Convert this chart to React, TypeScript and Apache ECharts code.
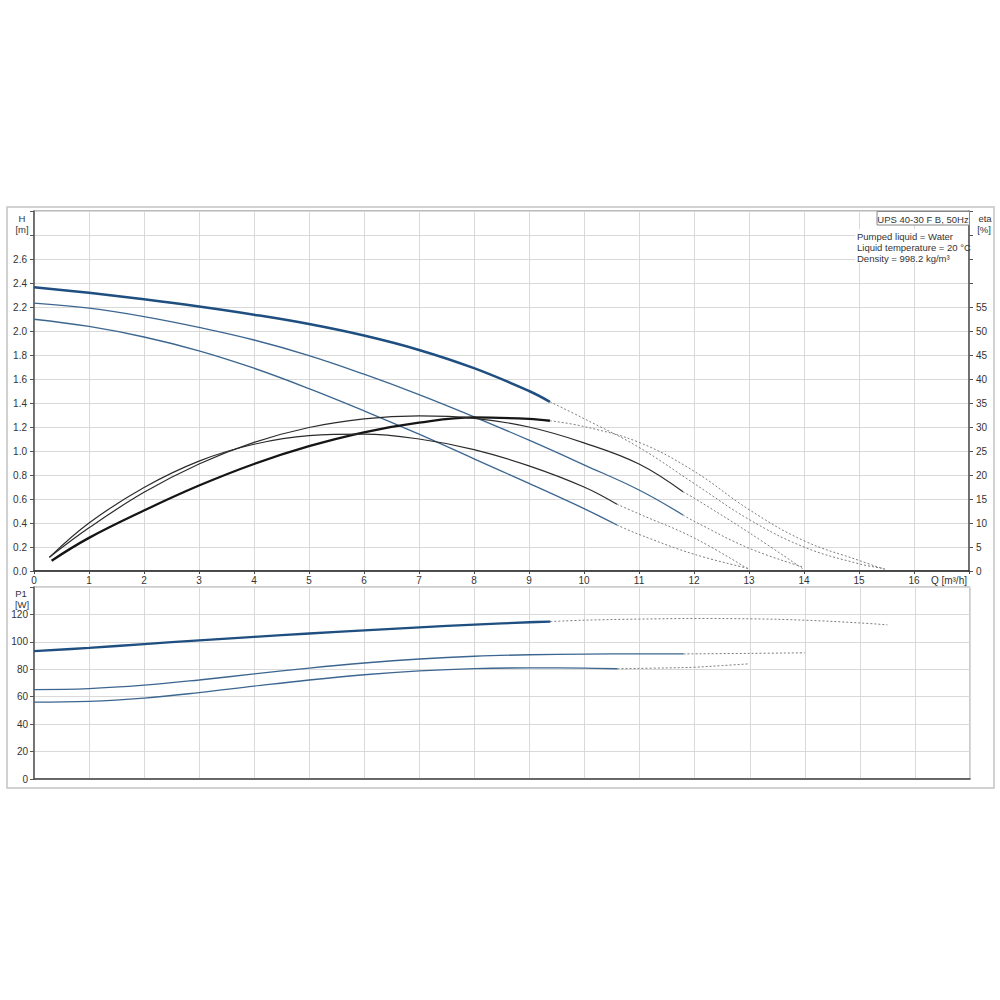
import React, { useEffect, useRef } from "react";
import * as echarts from "echarts";

// ---- Flow ticks ----
const Q_TICKS = [0, 1, 2, 3, 4, 5, 6, 7, 8, 9, 10, 11, 12, 13, 14, 15, 16, 17];

// ---- Head H [m] ----
const Q_H3 = [0, 1, 2, 3, 4, 5, 6, 7, 8, 9, 9.38];
const H3 = [2.365, 2.318, 2.264, 2.204, 2.136, 2.058, 1.962, 1.842, 1.69, 1.5, 1.41];
const Q_H3_EXT = [9.38, 10, 11, 12, 13, 14, 15, 15.47];
const H3_EXT = [1.41, 1.27, 1.03, 0.73, 0.43, 0.2, 0.06, 0.02];

const Q_H2 = [0, 1, 2, 3, 4, 5, 6, 7, 8, 9, 10, 11, 11.8];
const H2 = [2.232, 2.19, 2.12, 2.03, 1.925, 1.795, 1.64, 1.47, 1.285, 1.09, 0.885, 0.675, 0.467];
const Q_H2_EXT = [11.8, 12, 13, 14];
const H2_EXT = [0.467, 0.415, 0.19, 0.03];

const Q_H1 = [0, 1, 2, 3, 4, 5, 6, 7, 8, 9, 10, 10.6];
const H1 = [2.098, 2.038, 1.95, 1.835, 1.69, 1.52, 1.335, 1.14, 0.935, 0.73, 0.52, 0.383];
const Q_H1_EXT = [10.6, 11, 12, 13];
const H1_EXT = [0.383, 0.305, 0.14, 0.02];

// ---- Efficiency eta [%] ----
const Q_E3 = [0.32, 1, 2, 3, 4, 5, 6, 7, 8, 9, 9.38];
const E3 = [2.15, 6.9, 12.6, 17.8, 22.3, 26.0, 28.9, 30.9, 32.0, 31.7, 31.3];
const Q_E3_EXT = [9.38, 10, 11, 12, 13, 14, 15, 15.5];
const E3_EXT = [31.3, 30.1, 26.8, 20.8, 12.8, 6.3, 2.2, 0.2];

const Q_E2 = [0.28, 1, 2, 3, 4, 5, 6, 7, 8, 9, 10, 11, 11.8];
const E2 = [2.85, 9.0, 16.4, 22.3, 26.8, 29.9, 31.7, 32.3, 31.8, 30.0, 26.7, 22.3, 16.5];
const Q_E2_EXT = [11.8, 12, 13, 14];
const E2_EXT = [16.5, 15.2, 8.0, 0.3];

const Q_E1 = [0.28, 1, 2, 3, 4, 5, 6, 7, 8, 9, 10, 10.6];
const E1 = [2.85, 10.0, 17.4, 22.9, 26.4, 28.2, 28.5, 27.5, 25.3, 21.9, 17.5, 13.9];
const Q_E1_EXT = [10.6, 11, 12, 13];
const E1_EXT = [13.9, 11.9, 6.9, 0.3];

// ---- Power P1 [W] ----
const Q_P3 = [0, 1, 2, 3, 4, 5, 6, 7, 8, 9, 9.38];
const P3 = [93.2, 95.6, 98.4, 101.1, 103.7, 106.1, 108.4, 110.6, 112.6, 114.3, 114.8];
const Q_P3_EXT = [9.38, 10, 11, 12, 13, 14, 15, 15.5];
const P3_EXT = [114.8, 115.8, 116.6, 117, 116.8, 115.8, 113.8, 112.4];

const Q_P2 = [0, 1, 2, 3, 4, 5, 6, 7, 8, 9, 10, 11, 11.8];
const P2 = [65.2, 65.9, 68.4, 72.2, 76.6, 80.9, 84.6, 87.5, 89.5, 90.6, 91.1, 91.2, 91.2];
const Q_P2_EXT = [11.8, 13, 14];
const P2_EXT = [91.2, 91.6, 92];

const Q_P1 = [0, 1, 2, 3, 4, 5, 6, 7, 8, 9, 10, 10.6];
const P1 = [56.0, 56.6, 59.0, 63.0, 67.7, 72.2, 76.0, 78.8, 80.5, 81.0, 80.8, 80.4];
const Q_P1_EXT = [10.6, 11.5, 12, 12.5, 13];
const P1_EXT = [80.4, 81, 81.5, 82.7, 84];

// ---- Texts ----
const TITLE = "UPS 40-30 F B, 50Hz";
const INFO = ["Pumped liquid = Water", "Liquid temperature = 20 °C", "Density = 998.2 kg/m³"];

const FONT = '"Liberation Sans", Arial, sans-serif';
const GRID_C = "#d9d9d9";
const AXIS_C = "#555";
const TXT_C = "#333";

function pts(qs: number[], vs: number[]) {
  return qs.map((q, i) => [q, vs[i]]);
}

function line(name: string, data: number[][], xi: number, yi: number, color: string, width: number, dotted = false) {
  return {
    name,
    type: "line",
    xAxisIndex: xi,
    yAxisIndex: yi,
    data,
    showSymbol: false,
    symbol: "none",
    smooth: 0.4,
    silent: true,
    z: dotted ? 3 : 4,
    lineStyle: { color, width, type: dotted ? [2, 2] : "solid" },
  };
}

function txt(text: string, x: number, y: number, align = "center", size = 10) {
  return {
    type: "text",
    silent: true,
    z: 10,
    style: {
      text,
      x,
      y,
      fill: TXT_C,
      fontSize: size,
      fontFamily: FONT,
      textAlign: align,
      textVerticalAlign: "middle",
    },
  };
}

export default function App() {
  const ref = useRef<HTMLDivElement>(null);

  useEffect(() => {
    if (!ref.current) return;
    const chart = echarts.init(ref.current, null, { renderer: "svg" });

    const H_BLUE = "#1f4f80";
    const H_THIN = "#3c6690";
    const E_DARK = "#151515";
    const E_THIN = "#2b2b2b";
    const DOT = "#7d7d7d";

    const xCommon = {
      type: "value",
      min: Q_TICKS[0],
      max: Q_TICKS[Q_TICKS.length - 1],
      interval: 1,
      splitLine: { show: true, lineStyle: { color: GRID_C, width: 1 } },
    };

    const option: any = {
      animation: false,
      backgroundColor: "#fff",
      grid: [
        { left: 34, top: 211, width: 935, height: 360, show: true, borderColor: "#777", borderWidth: 1, backgroundColor: "transparent" },
        { left: 34, top: 587, width: 936, height: 192, show: true, borderColor: "#999", borderWidth: 1, backgroundColor: "transparent" },
      ],
      xAxis: [
        {
          ...xCommon,
          gridIndex: 0,
          axisLine: { show: true, lineStyle: { color: "#222", width: 1.5 } },
          axisTick: { show: true, length: 3, lineStyle: { color: "#444" } },
          axisLabel: {
            margin: 4,
            color: TXT_C,
            fontSize: 10,
            fontFamily: FONT,
            formatter: (v: number) => (v >= 16.5 ? "" : String(v)),
          },
        },
        {
          ...xCommon,
          gridIndex: 1,
          axisLine: { show: true, lineStyle: { color: "#444", width: 1.5 } },
          axisTick: { show: false },
          axisLabel: { show: false },
        },
      ],
      yAxis: [
        {
          type: "value",
          gridIndex: 0,
          position: "left",
          min: 0,
          max: 3,
          interval: 0.2,
          axisLine: { show: true, lineStyle: { color: AXIS_C, width: 1.5 } },
          axisTick: { show: true, length: 4, lineStyle: { color: AXIS_C } },
          splitLine: { show: true, lineStyle: { color: GRID_C, width: 1 } },
          axisLabel: {
            margin: 7,
            color: TXT_C,
            fontSize: 10,
            fontFamily: FONT,
            formatter: (v: number) => (v > 2.65 ? "" : v.toFixed(1)),
          },
        },
        {
          type: "value",
          gridIndex: 0,
          position: "right",
          min: 0,
          max: 75,
          interval: 5,
          axisLine: { show: true, lineStyle: { color: AXIS_C, width: 1.5 } },
          axisTick: { show: true, length: 4, lineStyle: { color: AXIS_C } },
          splitLine: { show: false },
          axisLabel: {
            margin: 7,
            color: TXT_C,
            fontSize: 10,
            fontFamily: FONT,
            formatter: (v: number) => (v > 57 ? "" : String(v)),
          },
        },
        {
          type: "value",
          gridIndex: 1,
          position: "left",
          min: 0,
          max: 140,
          interval: 20,
          axisLine: { show: true, lineStyle: { color: AXIS_C, width: 1.5 } },
          axisTick: { show: true, length: 4, lineStyle: { color: AXIS_C } },
          splitLine: { show: true, lineStyle: { color: GRID_C, width: 1 } },
          axisLabel: {
            margin: 6,
            color: TXT_C,
            fontSize: 10,
            fontFamily: FONT,
            formatter: (v: number) => (v > 130 ? "" : String(v)),
          },
        },
      ],
      series: [
        line("H3 ext", pts(Q_H3_EXT, H3_EXT), 0, 0, DOT, 1, true),
        line("H2 ext", pts(Q_H2_EXT, H2_EXT), 0, 0, DOT, 1, true),
        line("H1 ext", pts(Q_H1_EXT, H1_EXT), 0, 0, DOT, 1, true),
        line("eta3 ext", pts(Q_E3_EXT, E3_EXT), 0, 1, DOT, 1, true),
        line("eta2 ext", pts(Q_E2_EXT, E2_EXT), 0, 1, DOT, 1, true),
        line("eta1 ext", pts(Q_E1_EXT, E1_EXT), 0, 1, DOT, 1, true),
        line("H3", pts(Q_H3, H3), 0, 0, H_BLUE, 2.5),
        line("H2", pts(Q_H2, H2), 0, 0, H_THIN, 1.3),
        line("H1", pts(Q_H1, H1), 0, 0, H_THIN, 1.3),
        line("eta3", pts(Q_E3, E3), 0, 1, E_DARK, 2.3),
        line("eta2", pts(Q_E2, E2), 0, 1, E_THIN, 1.2),
        line("eta1", pts(Q_E1, E1), 0, 1, E_THIN, 1.2),
        line("P3 ext", pts(Q_P3_EXT, P3_EXT), 1, 2, DOT, 1, true),
        line("P2 ext", pts(Q_P2_EXT, P2_EXT), 1, 2, DOT, 1, true),
        line("P1 ext", pts(Q_P1_EXT, P1_EXT), 1, 2, DOT, 1, true),
        line("P3", pts(Q_P3, P3), 1, 2, H_BLUE, 2.3),
        line("P2", pts(Q_P2, P2), 1, 2, H_THIN, 1.3),
        line("P1", pts(Q_P1, P1), 1, 2, H_THIN, 1.3),
      ],
      graphic: [
        {
          type: "rect",
          silent: true,
          z: -1,
          shape: { x: 7, y: 207, width: 987, height: 581 },
          style: { fill: "none", stroke: "#c4c4c4", lineWidth: 1.5 },
        },
        {
          type: "rect",
          silent: true,
          z: 9,
          shape: { x: 855, y: 229, width: 113, height: 34 },
          style: { fill: "#fff", stroke: "none" },
        },
        {
          type: "rect",
          silent: true,
          z: 9,
          shape: { x: 877, y: 211.5, width: 92.5, height: 13.5 },
          style: { fill: "#fff", stroke: "#888", lineWidth: 1 },
        },
        txt(TITLE, 923, 219, "center", 9.5),
        txt(INFO[0], 857, 236, "left", 9.5),
        txt(INFO[1], 857, 247, "left", 9.5),
        txt(INFO[2], 857, 258, "left", 9.5),
        txt("H", 22, 218, "center", 9.5),
        txt("[m]", 22, 229, "center", 9.5),
        txt("eta", 985, 218, "center", 9.5),
        txt("[%]", 984, 229, "center", 9.5),
        txt("P1", 21, 593, "center", 9.5),
        txt("[W]", 22, 604, "center", 9.5),
        txt("Q [m³/h]", 967, 580, "right", 10),
      ],
    };

    chart.setOption(option);
    return () => chart.dispose();
  }, []);

  return (
    <div
      ref={ref}
      style={{ position: "fixed", left: 0, top: 0, width: 1000, height: 1000, background: "#fff" }}
    />
  );
}
